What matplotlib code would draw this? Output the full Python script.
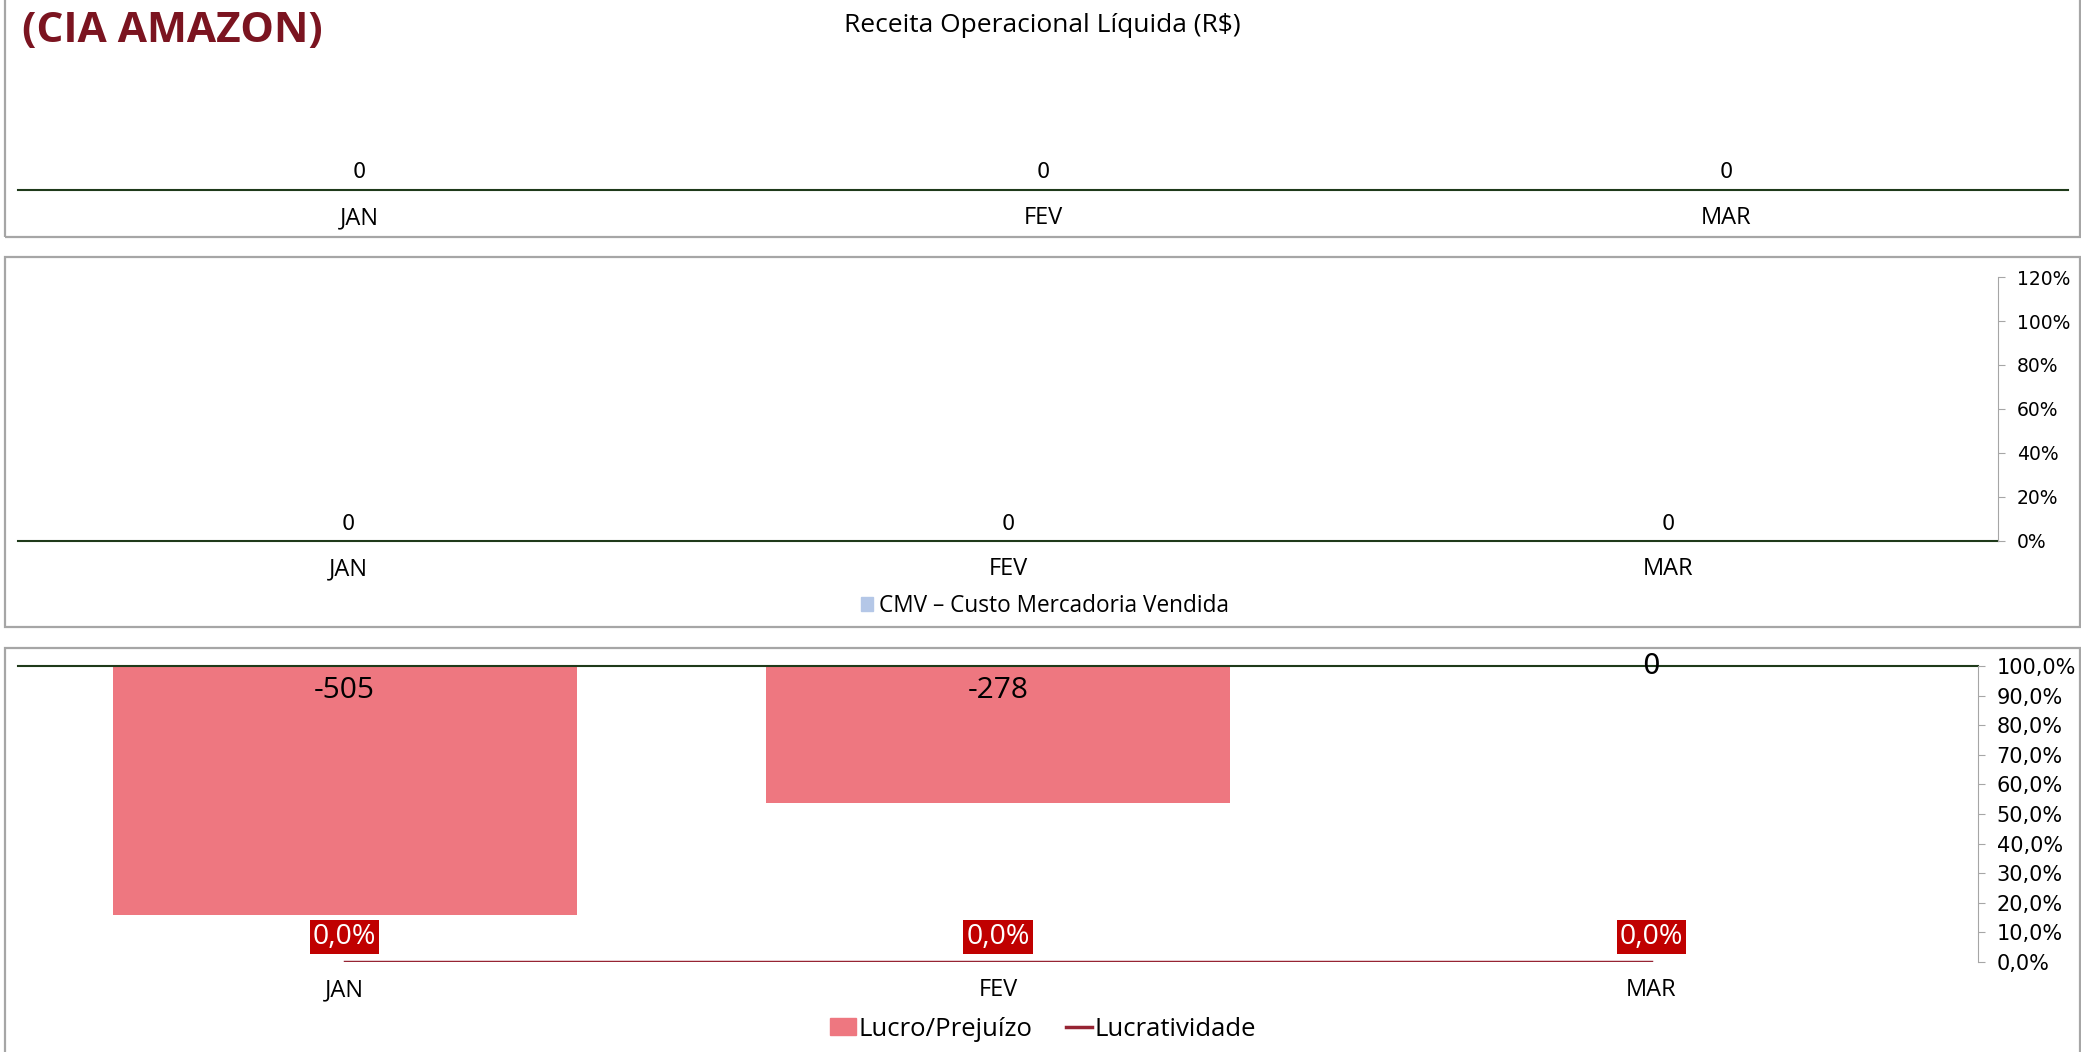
import matplotlib
matplotlib.use("Agg")
import matplotlib.pyplot as plt
from matplotlib.patches import Rectangle, Patch
from matplotlib.lines import Line2D
from matplotlib.ticker import FuncFormatter

meses = ["JAN", "FEV", "MAR"]
receita = [0, 0, 0]
cmv = [0, 0, 0]
lucro = [-505, -278, 0]
lucratividade = [0.0, 0.0, 0.0]

W, H = 2081, 1052
fig = plt.figure(figsize=(W / 100, H / 100), dpi=100)

VERDE = "#1f3a1a"
CINZA = "#a6a6a6"
ROSA = "#ee7780"
VINHO = "#962433"
VERMELHO = "#c00000"
SEGOE = "Open Sans"
MONT = "DejaVu Sans"


def box(x0, y0, x1, y1):
    return [x0 / W, 1 - y1 / H, (x1 - x0) / W, (y1 - y0) / H]


# molduras dos paineis
for (y0, y1) in [(-5, 237), (257, 627), (648, 1060)]:
    fig.patches.append(Rectangle((5 / W, 1 - y1 / H), 2075 / W, (y1 - y0) / H,
                                 transform=fig.transFigure, fill=False,
                                 edgecolor=CINZA, linewidth=1.6))

fig.text(22 / W, 1 - 32 / H, "(CIA AMAZON)", fontsize=30.5, fontweight="bold",
         color="#7b1420", family=SEGOE, va="center", ha="left")

# ---- painel 1: receita
ax1 = fig.add_axes(box(18, 60, 2068, 190))
x = range(len(meses))
ax1.bar(x, receita, width=0.7, color="#4472c4")
ax1.set_xlim(-0.5, 2.5)
ax1.set_ylim(0, 1)
for s in ["top", "left", "right"]:
    ax1.spines[s].set_visible(False)
ax1.spines["bottom"].set_color(VERDE)
ax1.spines["bottom"].set_linewidth(1.5)
ax1.set_yticks([])
ax1.set_xticks(list(x))
ax1.set_xticklabels(meses, fontsize=17, family=SEGOE)
ax1.tick_params(axis="x", length=0, pad=11.5)
for i, v in enumerate(receita):
    ax1.annotate(f"{v}", (i, v), xytext=(0, 18), textcoords="offset pixels",
                 ha="center", va="center", fontsize=15, family=MONT)
fig.text(1042 / W, 1 - 26 / H, "Receita Operacional Líquida (R$)", fontsize=19,
         family=SEGOE, ha="center", va="center")

# ---- painel 2: CMV
ax2 = fig.add_axes(box(18, 277, 1998, 541))
ax2.bar(x, cmv, width=0.7, color="#b4c7e7")
ax2.set_xlim(-0.5, 2.5)
ax2.set_ylim(0, 1)
for s in ["top", "left", "right"]:
    ax2.spines[s].set_visible(False)
ax2.spines["bottom"].set_color(VERDE)
ax2.spines["bottom"].set_linewidth(1.5)
ax2.set_yticks([])
ax2.set_xticks(list(x))
ax2.set_xticklabels(meses, fontsize=17, family=SEGOE)
ax2.tick_params(axis="x", length=0, pad=11.5)
for i, v in enumerate(cmv):
    ax2.annotate(f"{v}", (i, v), xytext=(0, 17), textcoords="offset pixels",
                 ha="center", va="center", fontsize=15, family=MONT)
ax2b = ax2.twinx()
ax2b.set_ylim(0, 1.2)
ax2b.set_yticks([0, 0.2, 0.4, 0.6, 0.8, 1.0, 1.2])
ax2b.yaxis.set_major_formatter(FuncFormatter(lambda v, p: f"{v * 100:.0f}%"))
for s in ["top", "left", "bottom"]:
    ax2b.spines[s].set_visible(False)
ax2b.spines["right"].set_color(CINZA)
ax2b.tick_params(axis="y", length=5, color=CINZA, pad=8.5, labelsize=13.5)
for t in ax2b.get_yticklabels():
    t.set_family(MONT)
fig.legend(handles=[Patch(color="#b4c7e7", label="CMV – Custo Mercadoria Vendida")],
           loc="center", bbox_to_anchor=(1045 / W, 1 - 606 / H), frameon=False,
           prop={"family": SEGOE, "size": 16.3}, handlelength=0.55, handleheight=0.55,
           handletextpad=0.25)

# ---- painel 3: lucro / lucratividade
ax3 = fig.add_axes(box(18, 666, 1978, 962))
ax3.bar(x, lucro, width=0.71, color=ROSA, label="Lucro/Prejuízo")
ax3.set_xlim(-0.5, 2.5)
ax3.set_ylim(-600, 0)
for s in ["bottom", "left", "right"]:
    ax3.spines[s].set_visible(False)
ax3.spines["top"].set_color(VERDE)
ax3.spines["top"].set_linewidth(1.5)
ax3.set_yticks([])
ax3.set_xticks(list(x))
ax3.set_xticklabels(meses, fontsize=17, family=SEGOE)
ax3.tick_params(axis="x", length=0, pad=11.5)
for i, v in enumerate(lucro):
    if v != 0:
        ax3.annotate(f"{v}", (i, 0), xytext=(0, -25), textcoords="offset pixels",
                     ha="center", va="center", fontsize=21.5, family=SEGOE)
    else:
        ax3.annotate(f"{v}", (i, 0), ha="center", va="center", fontsize=20,
                     family=MONT)

ax3b = ax3.twinx()
ax3b.plot(list(x), lucratividade, color=VINHO, linewidth=2.5, label="Lucratividade")
ax3b.set_ylim(0, 1)
ax3b.set_yticks([i / 10 for i in range(11)])
ax3b.yaxis.set_major_formatter(
    FuncFormatter(lambda v, p: f"{v * 100:.1f}%".replace(".", ",")))
for s in ["top", "left", "bottom"]:
    ax3b.spines[s].set_visible(False)
ax3b.spines["right"].set_color(CINZA)
ax3b.tick_params(axis="y", length=5, color=CINZA, pad=8.5, labelsize=15)
for t in ax3b.get_yticklabels():
    t.set_family(MONT)
for i, v in enumerate(lucratividade):
    ax3b.annotate(f"{v * 100:.1f}%".replace(".", ","), (i, v), xytext=(0, 25),
                  textcoords="offset pixels", ha="center", va="center",
                  fontsize=20.5, family=SEGOE, color="white",
                  bbox=dict(boxstyle="square,pad=0.1", facecolor=VERMELHO,
                            edgecolor="none"))

fig.legend(handles=[Patch(color=ROSA, label="Lucro/Prejuízo"),
                    Line2D([], [], color=VINHO, linewidth=2.5, label="Lucratividade")],
           loc="center", bbox_to_anchor=(1043 / W, 1 - 1029 / H), ncol=2,
           frameon=False, prop={"family": SEGOE, "size": 18.5}, handlelength=1.0,
           handleheight=0.6, handletextpad=0.1, columnspacing=1.3)

fig.savefig("out.png", dpi=100)
